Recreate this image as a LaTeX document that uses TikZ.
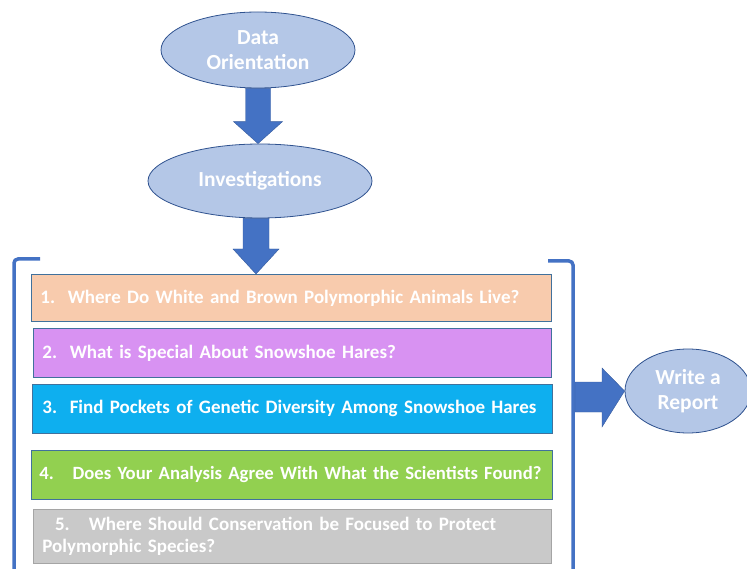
\documentclass[tikz,border=0pt]{standalone}
\usepackage{fontspec}
\setmainfont{Carlito}
\usepackage{tikz}
\usetikzlibrary{calc,shapes.geometric,positioning}
\definecolor{ovalfill}{HTML}{B4C7E7}
\definecolor{ovaledge}{HTML}{2F528F}
\definecolor{flowblue}{HTML}{4472C4}
\definecolor{boxedge}{HTML}{41719C}
\definecolor{qpeach}{HTML}{F8CBAD}
\definecolor{qviolet}{HTML}{D892F2}
\definecolor{qsky}{HTML}{0EAFEF}
\definecolor{qgreen}{HTML}{92D050}
\definecolor{qgrey}{HTML}{C9C9C9}
\definecolor{greyedge}{HTML}{A5A5A5}

\begin{document}
\begin{tikzpicture}[
    x=1pt, y=-1pt,
    oval/.style={ellipse, fill=ovalfill, draw=ovaledge, line width=0.8pt, inner sep=0pt,
      text=white, font=\fontsize{21.5}{25}\selectfont\bfseries, align=center},
    question/.style={rectangle, draw=boxedge, line width=0.8pt, anchor=north west,
      minimum width=520pt, text width=502pt, inner xsep=9pt, align=left,
      text=white, font=\fontsize{19}{21.5}\selectfont\bfseries},
    bracket/.style={draw=flowblue, line width=3.5pt, rounded corners=4pt},
    blockarrow/.style={fill=flowblue, draw=flowblue!80!black, line width=0.4pt},
  ]
  \useasboundingbox (0,0) rectangle (747,569);

  \node[oval, minimum width=194pt, minimum height=76pt] (orient) at (258,50) {Data\\Orientation};
  \node[oval, minimum width=224pt, minimum height=74pt] (invest) at (260,181) {Investigations};
  \node[oval, minimum width=126pt, minimum height=84pt] (report) at (688,391) {Write a\\Report};

  \node[question, fill=qpeach, minimum height=47pt] (q1) at (31,274)
    {1.\ \ Where Do White and Brown Polymorphic Animals Live?};
  \node[question, fill=qviolet, minimum width=518pt, text width=500pt, minimum height=49pt] (q2) at (33,328)
    {2.\ \ What is Special About Snowshoe Hares?};
  \node[question, fill=qsky, minimum width=518pt, text width=500pt, minimum height=49pt, inner xsep=10pt] (q3) at (32,384)
    {3.\ \ Find Pockets of Genetic Diversity Among Snowshoe Hares};
  \node[question, fill=qgreen, minimum width=521pt, text width=505pt, minimum height=49pt, inner xsep=8pt,
    font=\fontsize{18.7}{21.5}\selectfont\bfseries] (q4) at (31,450)
    {4.\ \ \ Does Your Analysis Agree With What the Scientists Found?};
  \node[question, fill=qgrey, draw=greyedge, minimum width=518pt, text width=500pt, minimum height=54pt] (q5) at (33,509)
    {\ \ 5.\ \ \ Where Should Conservation be Focused to Protect\\Polymorphic Species?};

  \coordinate (bl) at (40,259);
  \coordinate (br) at (548,261);
  \draw[bracket] (bl) -- (14,259) -- (14,575);
  \draw[bracket] (br) -- (573,261) -- (573,575);

  \fill[blockarrow] let \p1=(orient.south), \p2=(invest.north) in
    ($(\x1,\y1)+(-12.5,0)$) -- ($(\x1,\y2)+(-12.5,-22)$) -- ($(\x1,\y2)+(-24.5,-22)$) --
    (\x1,\y2) -- ($(\x1,\y2)+(24.5,-22)$) -- ($(\x1,\y2)+(12.5,-22)$) -- ($(\x1,\y1)+(12.5,0)$) -- cycle;
  \fill[blockarrow] let \p1=(invest.south), \p2=(q1.north) in
    ($(\x1-4,\y1)+(-13,0)$) -- ($(\x1-4,\y2)+(-13,-25)$) -- ($(\x1-4,\y2)+(-23,-25)$) --
    (\x1-4,\y2) -- ($(\x1-4,\y2)+(23,-25)$) -- ($(\x1-4,\y2)+(13,-25)$) -- ($(\x1-4,\y1)+(13,0)$) -- cycle;
  \fill[blockarrow] let \p1=(report.west) in
    (575,382) -- (602,382) -- (602,368) -- (\p1) -- (602,427) -- (602,412) -- (575,412) -- cycle;
\end{tikzpicture}
\end{document}
